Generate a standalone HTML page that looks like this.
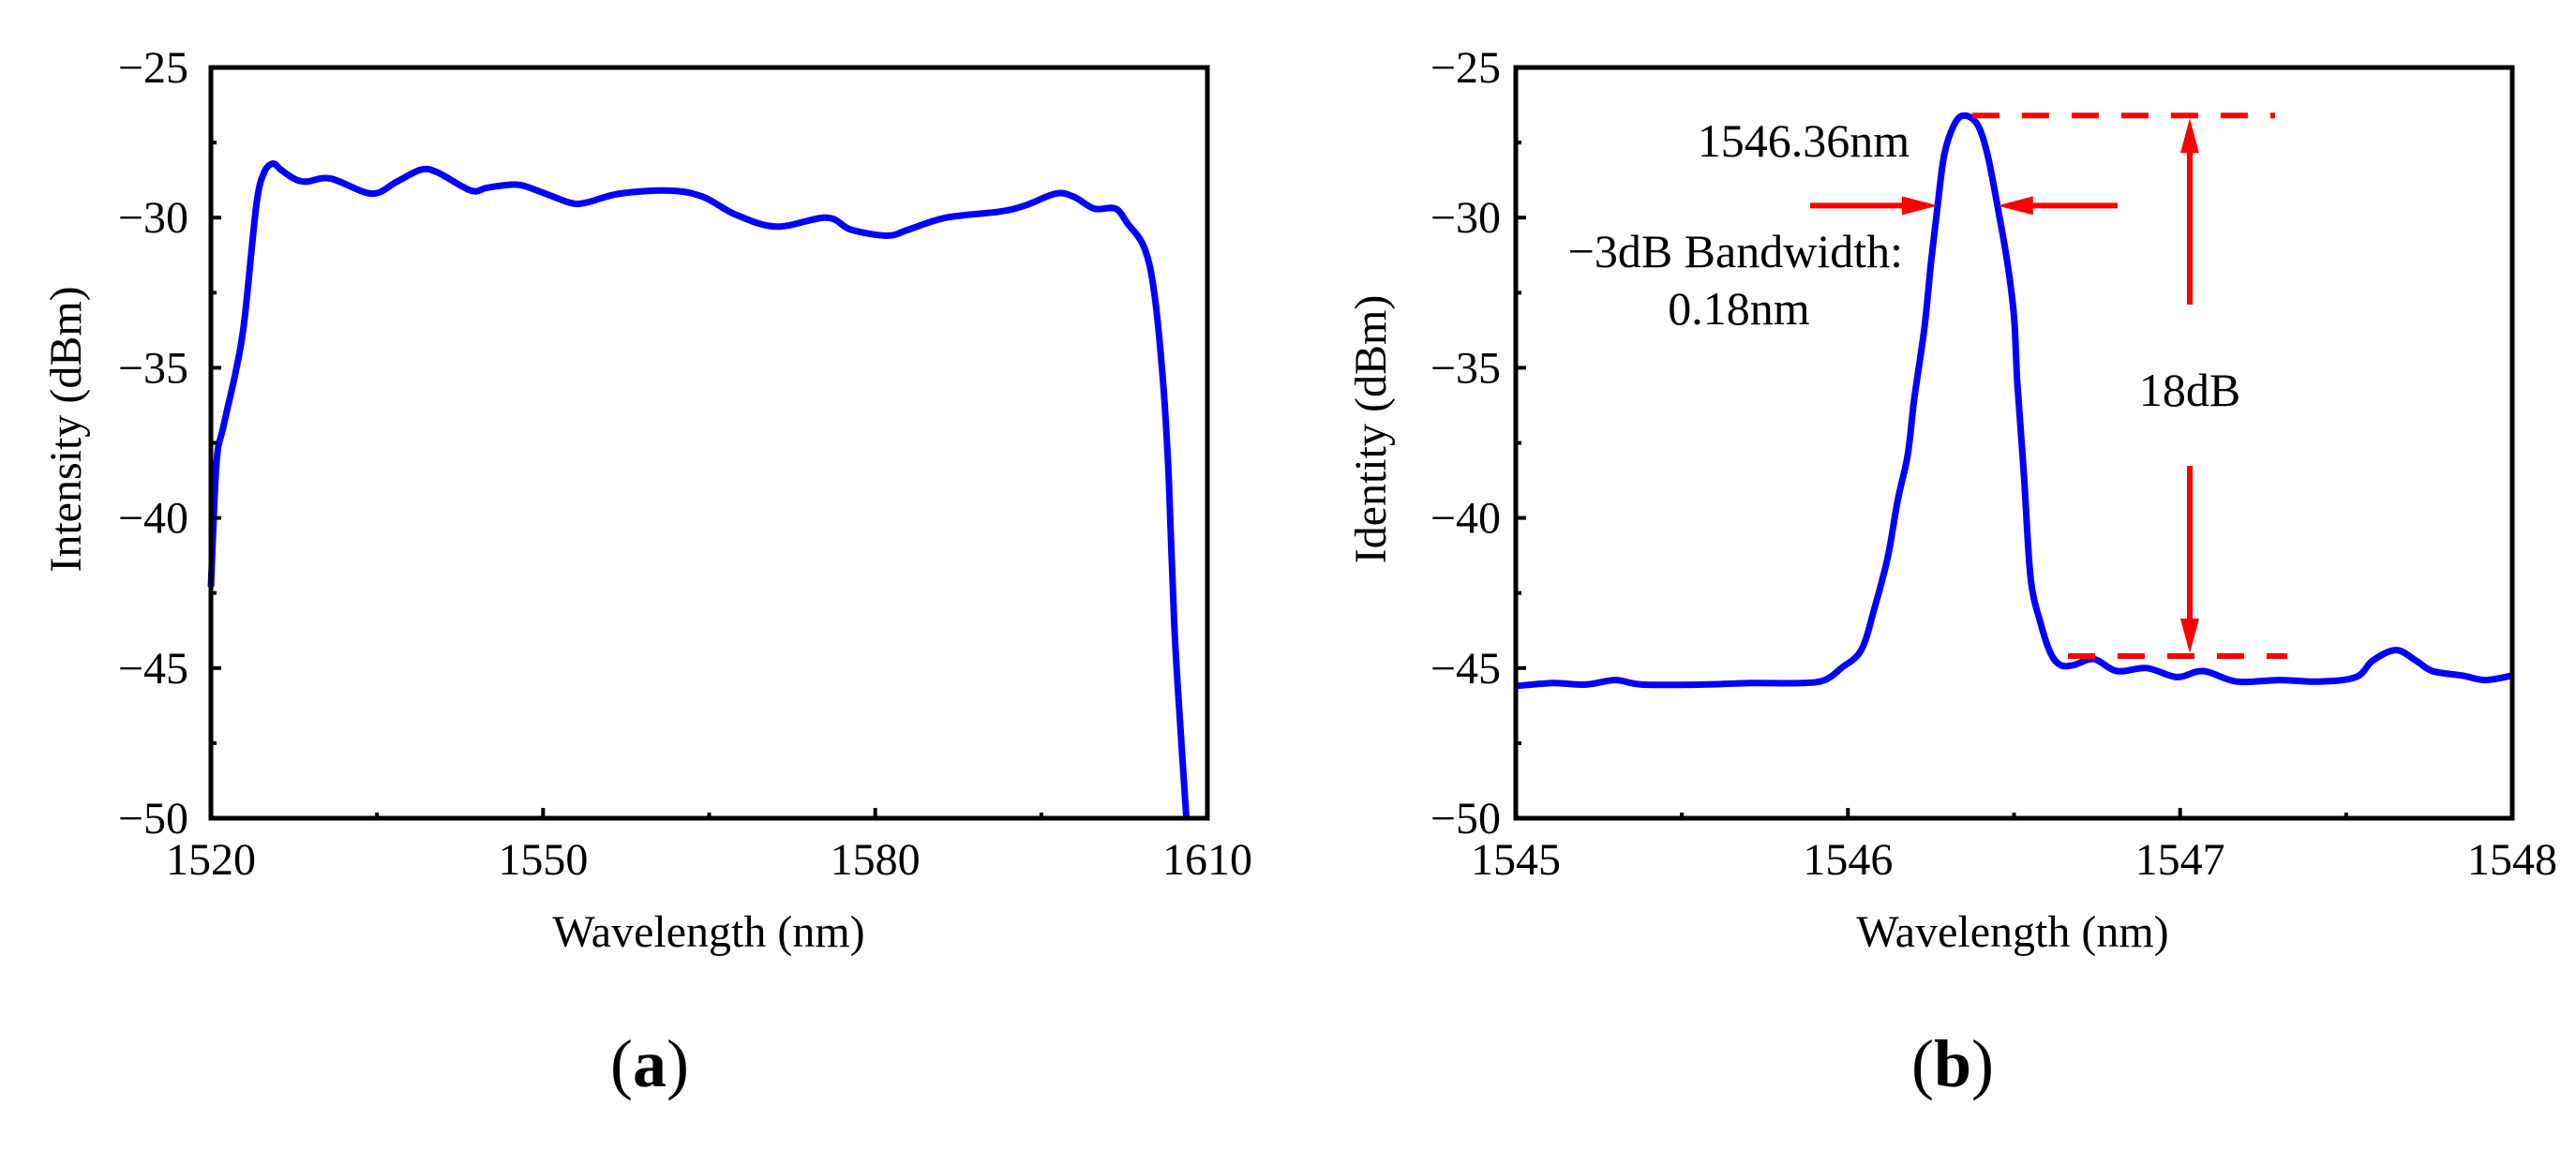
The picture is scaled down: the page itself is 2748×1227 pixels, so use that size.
<!DOCTYPE html>
<html><head><meta charset="utf-8"><style>
html,body{margin:0;padding:0;background:#fff;}
svg{display:block;font-family:"Liberation Serif",serif;}
</style></head><body>
<svg id="fig" width="2748" height="1227" viewBox="0 0 2748 1227" xmlns="http://www.w3.org/2000/svg"></svg>
<script>
// Panel (a) data
const aWavelength = [1520,1520.5,1521.1,1522.2,1523.0,1524.1,1524.8,1525.6,1526.3,1527.5,1528.6,1530.8,1534.5,1536.8,1539.0,1540.5,1543.5,1545.0,1547.6,1549.5,1552.4,1553.9,1556.9,1561.4,1564.4,1567.4,1571.1,1575.6,1577.8,1581.1,1583.0,1586.4,1591.2,1593.5,1596.3,1597.9,1599.8,1601.7,1602.8,1604.3,1605.2,1606.0,1606.5,1607.0,1607.6,1608.1];
const aIntensity = [-42.3,-38.2,-37.0,-35.2,-33.5,-29.6,-28.5,-28.2,-28.4,-28.7,-28.8,-28.7,-29.2,-28.8,-28.4,-28.5,-29.1,-29.0,-28.9,-29.1,-29.5,-29.5,-29.2,-29.1,-29.3,-29.9,-30.3,-30.0,-30.4,-30.6,-30.4,-30.0,-29.8,-29.6,-29.2,-29.3,-29.7,-29.7,-30.2,-31.0,-32.5,-35.5,-38.6,-43.5,-47.2,-50.0];
const aXTicks = [1520,1550,1580,1610];
const aXMinor = [1535,1565,1595];
// Panel (b) data
const bWavelength = [1545.00,1545.11,1545.21,1545.30,1545.38,1545.56,1545.71,1545.86,1545.93,1545.98,1546.04,1546.08,1546.12,1546.15,1546.18,1546.20,1546.23,1546.25,1546.27,1546.29,1546.32,1546.35,1546.39,1546.42,1546.45,1546.48,1546.50,1546.51,1546.53,1546.55,1546.58,1546.61,1546.64,1546.68,1546.74,1546.81,1546.90,1546.99,1547.07,1547.17,1547.30,1547.42,1547.53,1547.58,1547.65,1547.71,1547.76,1547.85,1547.92,1548.00];
const bIdentity = [-45.6,-45.5,-45.55,-45.4,-45.55,-45.55,-45.5,-45.5,-45.4,-45.0,-44.4,-43.0,-41.3,-39.4,-37.9,-36.0,-33.7,-31.5,-29.6,-27.9,-26.9,-26.6,-26.9,-27.9,-29.6,-31.5,-33.3,-35.5,-38.6,-42.0,-43.5,-44.5,-44.9,-44.9,-44.7,-45.1,-45.0,-45.3,-45.1,-45.45,-45.4,-45.45,-45.3,-44.75,-44.4,-44.75,-45.1,-45.25,-45.4,-45.25];
const bXTicks = [1545,1546,1547,1548];
const bXMinor = [1545.5,1546.5,1547.5];
const yTicks = [-25,-30,-35,-40,-45,-50];
const yMinor = [-27.5,-32.5,-37.5,-42.5,-47.5];
// annotation values (b)
const peakWl = 1546.36, peakDb = -26.6, floorDb = -44.6, halfDb = -29.6;
const halfLeft = 1546.27, halfRight = 1546.45;

const NS = "http://www.w3.org/2000/svg";
const svg = document.getElementById('fig');
function mk(tag, attrs, parent, text){
  const e = document.createElementNS(NS, tag);
  for (const k in attrs) e.setAttribute(k, attrs[k]);
  if (text !== undefined) e.textContent = text;
  (parent || svg).appendChild(e);
  return e;
}
function smooth(pts){
  let d = 'M' + pts[0][0].toFixed(1) + ' ' + pts[0][1].toFixed(1);
  for (let i = 0; i < pts.length - 1; i++){
    const p0 = pts[Math.max(0, i - 1)], p1 = pts[i], p2 = pts[i + 1], p3 = pts[Math.min(pts.length - 1, i + 2)];
    const c1x = p1[0] + (p2[0] - p0[0]) / 6, c1y = p1[1] + (p2[1] - p0[1]) / 6;
    const c2x = p2[0] - (p3[0] - p1[0]) / 6, c2y = p2[1] - (p3[1] - p1[1]) / 6;
    d += 'C' + c1x.toFixed(1) + ' ' + c1y.toFixed(1) + ' ' + c2x.toFixed(1) + ' ' + c2y.toFixed(1) + ' ' + p2[0].toFixed(1) + ' ' + p2[1].toFixed(1);
  }
  return d;
}
const pTop = 72, pBottom = 873;
function panel(opt){
  const g = mk('g', {});
  
  
  const L = opt.left, R = opt.right;
  const xs = v => L + (v - opt.xmin) / (opt.xmax - opt.xmin) * (R - L);
  const ys = v => pTop + (-25 - v) / 25 * (pBottom - pTop);
  const pts = opt.xv.map((x, i) => [xs(x), ys(opt.yv[i])]);
  const p = mk('path', {d: smooth(pts), fill: 'none', stroke: '#0000ff', 'stroke-width': 7, 'stroke-linejoin': 'round'}, g);
  
  
  const f = mk('rect', {x: L, y: pTop, width: R - L, height: pBottom - pTop, fill: 'none', stroke: '#000', 'stroke-width': 5}, g);
  
  
  opt.xt.forEach(v => {
    mk('line', {x1: xs(v), x2: xs(v), y1: pBottom, y2: pBottom - 11, stroke: '#000', 'stroke-width': 4}, g);
    const t = mk('text', {x: xs(v), y: 933, 'font-size': 48, 'text-anchor': 'middle'}, g, String(v));
    
    
  });
  opt.xm.forEach(v => mk('line', {x1: xs(v), x2: xs(v), y1: pBottom, y2: pBottom - 6, stroke: '#000', 'stroke-width': 4}, g));
  yTicks.forEach(v => {
    mk('line', {x1: L, x2: L + 11, y1: ys(v), y2: ys(v), stroke: '#000', 'stroke-width': 4}, g);
    const t = mk('text', {x: opt.ylabX, y: ys(v) + 16, 'font-size': 48, 'text-anchor': 'end'}, g, '\u2212' + Math.abs(v));
    
    
  });
  yMinor.forEach(v => mk('line', {x1: L, x2: L + 6, y1: ys(v), y2: ys(v), stroke: '#000', 'stroke-width': 4}, g));
  const xt = mk('text', {x: opt.xTitleX, y: 1010, 'font-size': 48, 'text-anchor': 'middle'}, g, 'Wavelength (nm)');
  
  
  const yt = mk('text', {x: 0, y: 0, 'font-size': 48, 'text-anchor': 'middle', transform: 'translate(' + (opt.yTitleX + 16) + ',458) rotate(-90)'}, g, opt.yTitle);
  
  
  const cap = mk('text', {x: opt.capX, y: 1159, 'font-size': 72, 'text-anchor': 'middle'}, g);
  
  
  mk('tspan', {}, cap, '(');
  mk('tspan', {'font-weight': 'bold'}, cap, opt.cap);
  mk('tspan', {}, cap, ')');
  return {g, xs, ys};
}
panel({name: 'panel-a', left: 225, right: 1288, xmin: 1520, xmax: 1610, xv: aWavelength, yv: aIntensity, xt: aXTicks, xm: aXMinor, ylabX: 201, xTitleX: 756, yTitleX: 70, yTitle: 'Intensity (dBm)', capX: 693, cap: 'a'});
const B = panel({name: 'panel-b', left: 1617, right: 2680, xmin: 1545, xmax: 1548, xv: bWavelength, yv: bIdentity, xt: bXTicks, xm: bXMinor, ylabX: 1601, xTitleX: 2147, yTitleX: 1462, yTitle: 'Identity (dBm)', capX: 2083, cap: 'b'});

const an = mk('g', {fill: '#ff0000'});


const red = {stroke: '#ff0000', 'stroke-width': 6};
const yTopL = B.ys(peakDb), yFloor = B.ys(floorDb), yHalf = B.ys(halfDb);
const d1 = mk('line', Object.assign({x1: B.xs(peakWl) + 5, x2: 2427, y1: yTopL, y2: yTopL, 'stroke-dasharray': '29 24'}, red), an);


const d2 = mk('line', Object.assign({x1: 2206, x2: 2440, y1: yFloor, y2: yFloor, 'stroke-dasharray': '29 24'}, red), an);


const ax = 2336;
mk('line', Object.assign({x1: ax, x2: ax, y1: 325, y2: yTopL + 30}, red), an);
const h1 = mk('polygon', {points: `${ax},${yTopL + 3} ${ax - 10},${yTopL + 40} ${ax + 10},${yTopL + 40}`}, an);

mk('line', Object.assign({x1: ax, x2: ax, y1: 497, y2: yFloor - 30}, red), an);
const h2 = mk('polygon', {points: `${ax},${yFloor - 3} ${ax - 10},${yFloor - 40} ${ax + 10},${yFloor - 40}`}, an);

const xl = B.xs(halfLeft), xr = B.xs(halfRight);
mk('line', Object.assign({x1: 1931, x2: xl - 30, y1: yHalf, y2: yHalf}, red), an);
const h3 = mk('polygon', {points: `${xl},${yHalf} ${xl - 38},${yHalf - 10} ${xl - 38},${yHalf + 10}`}, an);

mk('line', Object.assign({x1: 2259, x2: xr + 30, y1: yHalf, y2: yHalf}, red), an);
const h4 = mk('polygon', {points: `${xr},${yHalf} ${xr + 38},${yHalf - 10} ${xr + 38},${yHalf + 10}`}, an);


function label(txt, x, y, anchor, name){
  const t = mk('text', {x: x, y: y, 'font-size': 50, 'text-anchor': anchor, fill: '#000'}, svg, txt);
  
  
}
label('1546.36nm', 1924, 167, 'middle', 'peak-wavelength-label');
label('\u22123dB Bandwidth:', 2030, 285, 'end', 'bandwidth-label');
label('0.18nm', 1855, 346, 'middle', 'bandwidth-value-label');
label('18dB', 2336, 433, 'middle', 'extinction-label');
</script>
</body></html>
